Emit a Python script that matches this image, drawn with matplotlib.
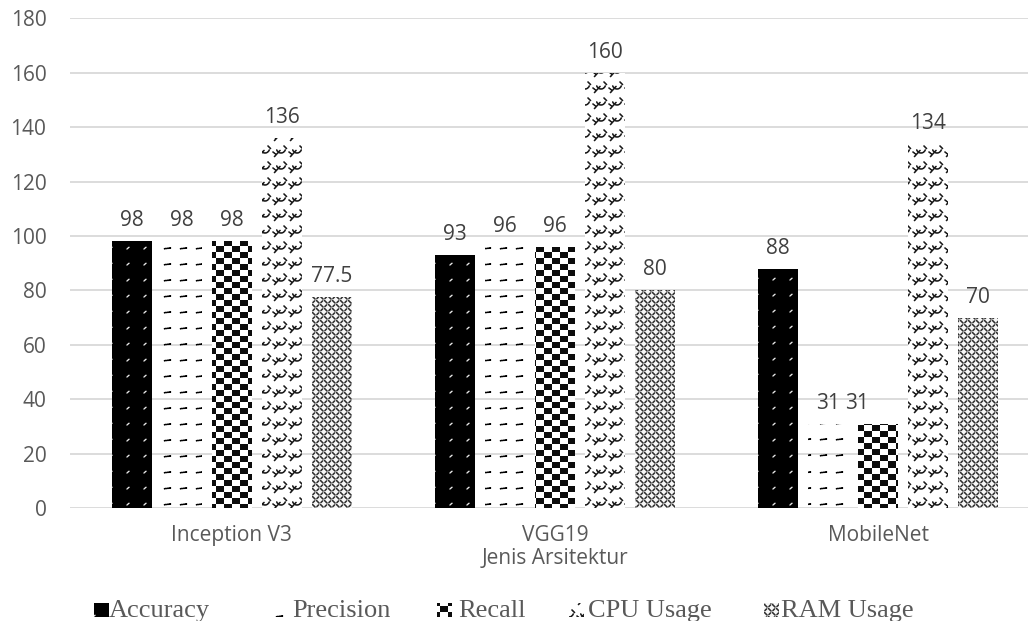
import numpy as np
import matplotlib
matplotlib.use("Agg")
import matplotlib.pyplot as plt

# ---- data ----
architectures = ["Inception V3", "VGG19", "MobileNet"]
series_names = ["Accuracy", "Precision", "Recall", "CPU Usage", "RAM Usage"]
accuracy = [98, 93, 88]
precision = [98, 96, 31]
recall = [98, 96, 31]
cpu_usage = [136, 160, 134]
ram_usage = [77.5, 80, 70]
y_ticks = [0, 20, 40, 60, 80, 100, 120, 140, 160, 180]
x_title = "Jenis Arsitektur"

series = [accuracy, precision, recall, cpu_usage, ram_usage]

W, H, DPI = 1028, 621, 100
plt.rcParams['font.family'] = ['Open Sans', 'DejaVu Sans']


# ---- fill patterns (pixel tiles) ----
def stroke_ink(w, h, segs, width, ss=4):
    """Supersampled ink coverage of line segments on a wrapping w x h tile."""
    yy, xx = np.mgrid[0:h * ss, 0:w * ss]
    px = (xx + 0.5) / ss
    py = (yy + 0.5) / ss
    d = np.full(px.shape, np.inf)
    for (x0, y0, x1, y1) in segs:
        for ox in (-w, 0, w):
            for oy in (-h, 0, h):
                ax0, ay0 = x0 + ox, y0 + oy
                vx, vy = x1 - x0, y1 - y0
                L2 = vx * vx + vy * vy
                if L2 > 0:
                    t = np.clip(((px - ax0) * vx + (py - ay0) * vy) / L2, 0, 1)
                else:
                    t = 0
                dist = np.hypot(px - (ax0 + t * vx), py - (ay0 + t * vy))
                d = np.minimum(d, dist)
    ink = (d <= width / 2).astype(float)
    return ink.reshape(h, ss, w, ss).mean(axis=(1, 3))


def arc(cx, cy, r, a0, a1, n=10):
    a = np.radians(np.linspace(a0, a1, n))
    xs = cx + r * np.cos(a)
    ys = cy + r * np.sin(a)
    return [(xs[i], ys[i], xs[i + 1], ys[i + 1]) for i in range(n - 1)]


def rgba_tile(ink, fg, bg, transparent_bg=False):
    h, w = ink.shape
    t = np.zeros((h, w, 4))
    for c in range(3):
        t[..., c] = ink * fg + (1 - ink) * bg
    t[..., 3] = ink if transparent_bg else 1.0
    return t


# solid black with small light flecks
acc_ink = stroke_ink(17, 16, [(8.0, 9.0, 10.0, 7.2)], 1.3)
tile_acc = rgba_tile(acc_ink, 0.9, 0.0)

# short dark dashes on a see-through ground
pre_ink = stroke_ink(16, 16, [(4.5, 8.7, 10.5, 8.0)], 2.0)
tile_pre = rgba_tile(pre_ink, 0.0, 1.0, transparent_bg=True)

# large checkerboard
yy, xx = np.mgrid[0:12, 0:16]
chk = (((xx // 8) + (yy // 6)) % 2 == 0).astype(float)
tile_rec = rgba_tile(chk * 0.95, 0.0, 1.0)

# weave of hooks and crossings
cpu_segs = arc(9.0, 4.5, 4.5, 20, 160) + [(2.5, 12.5, 8.0, 6.5), (12.0, 2.0, 14.5, 4.5),
                                         (1.0, 8.0, 3.5, 10.0)]
cpu_ink = stroke_ink(16, 16, cpu_segs, 1.6) * 0.9
tile_cpu = rgba_tile(cpu_ink, 0.0, 1.0)

# fine dense diagonal weave
ram_segs = [(0.5, 0.5, 3.0, 3.0), (4.5, 4.5, 7.0, 7.0), (6.5, 1.0, 5.0, 2.5), (2.5, 5.0, 1.0, 6.5)]
ram_ink = stroke_ink(8, 8, ram_segs, 1.5) * 0.85
tile_ram = rgba_tile(ram_ink, 0.05, 0.97)

tiles = [tile_acc, tile_pre, tile_rec, tile_cpu, tile_ram]


def texture(tile, col0, row0, w, h):
    th, tw = tile.shape[:2]
    rows = (row0 + np.arange(h)) % th
    cols = (col0 + np.arange(w)) % tw
    return tile[rows][:, cols]


# ---- figure ----
fig = plt.figure(figsize=(W / DPI, H / DPI), dpi=DPI)
ax = fig.add_axes([70 / W, (H - 508) / H, 970 / W, 489.6 / H])
ax.set_xlim(-0.5, 2.5)
ax.set_ylim(0, 180)

x = np.arange(len(architectures))
pitch = 50 / 323.3
bar_w = 40 / 323.3

# horizontal nudges (points) for value labels that would otherwise crowd
label_nudge = {(2, 2): -15}

inv = ax.transData.inverted()
for i, vals in enumerate(series):
    bars = ax.bar(x + (i - 2) * pitch, vals, width=bar_w, color='none',
                  edgecolor='none', zorder=2)
    for j, (rect, v) in enumerate(zip(bars, vals)):
        x0d, y0d = ax.transData.transform((rect.get_x(), 0))
        x1d, y1d = ax.transData.transform((rect.get_x() + rect.get_width(), v))
        c0, c1 = int(round(x0d)), int(round(x1d))
        r_top, r_bot = int(round(H - y1d)), int(round(H - y0d))
        tex = texture(tiles[i], c0, r_top, c1 - c0, r_bot - r_top)
        ex0, ey0 = inv.transform((c0, H - r_bot))
        ex1, ey1 = inv.transform((c1, H - r_top))
        im = ax.imshow(tex, extent=(ex0, ex1, ey0, ey1), origin='upper',
                       interpolation='nearest', aspect='auto', zorder=2)
        im.set_clip_path(rect)
        ax.annotate(f"{v:g}", xy=(rect.get_x() + rect.get_width() / 2, v),
                    xytext=(label_nudge.get((j, i), 0), 10.8), textcoords='offset points',
                    ha='center', va='baseline', fontsize=15, color='#404040')

ax.set_xlim(-0.5, 2.5)
ax.set_ylim(0, 180)

ax.set_axisbelow(True)
ax.yaxis.grid(True, color='#d9d9d9', linewidth=1.3)
for s in ax.spines.values():
    s.set_visible(False)
ax.set_yticks(y_ticks)
ax.set_xticks(x)
ax.set_xticklabels(architectures)
ax.tick_params(axis='both', length=0, labelsize=15, labelcolor='#595959')
ax.tick_params(axis='y', pad=17)
ax.tick_params(axis='x', pad=12)

fig.text(555 / W, 1 - 558 / H, x_title, ha='center', va='center',
         fontsize=15, color='#595959')

# ---- legend ----
marker_x = [94, 273, 437, 569, 764]
text_x = [109, 292, 458, 588, 781]
base_y = 617
msize = 14
for i, name in enumerate(series_names):
    mk = texture(tiles[i], marker_x[i], base_y - msize, msize + 1, msize)
    fig.figimage(mk, xo=marker_x[i], yo=H - base_y, origin='upper', zorder=3)
    fig.text(text_x[i] / W, 1 - base_y / H, name, ha='left', va='baseline',
             fontsize=19, family=['Liberation Serif', 'DejaVu Serif'], color='#595959')

fig.savefig("out.png", dpi=DPI)
